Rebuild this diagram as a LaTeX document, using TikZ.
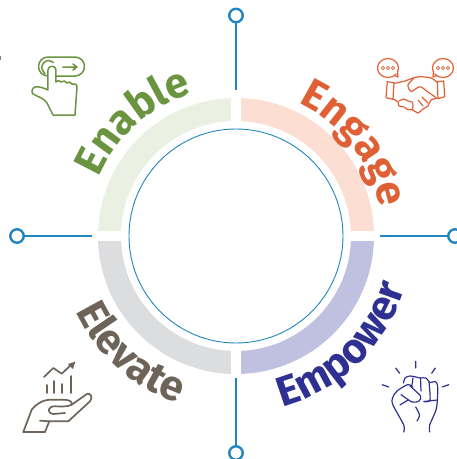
\documentclass[tikz,border=0pt]{standalone}
\usepackage{fontspec}
\setsansfont{Fira Sans}
\usetikzlibrary{decorations.text}

\definecolor{spokeblue}{HTML}{1F86C0}
\definecolor{enablegreen}{HTML}{6A9440}
\definecolor{enablering}{HTML}{EAF1E3}
\definecolor{engagered}{HTML}{DE6034}
\definecolor{engagering}{HTML}{FDDED3}
\definecolor{elevategray}{HTML}{6D6358}
\definecolor{elevatering}{HTML}{DCDDDE}
\definecolor{empowerblue}{HTML}{2E3192}
\definecolor{empowerring}{HTML}{C0C1E0}

\newcommand{\ringfont}{\sffamily\bfseries\fontsize{42}{42}\selectfont}

\tikzset{
  hub/.style={circle,draw=spokeblue,line width=2.4pt,fill=white,minimum size=13.5pt,inner sep=0pt},
  spoke/.style={draw=spokeblue,line width=1.8pt},
  ringlabel/.style n args={3}{decorate,decoration={text along path,text align={center},
    text={|\ringfont\addfontfeature{LetterSpace=#3}\color{#2}|#1}}},
  icon/.style={line width=#1,line cap=round,line join=round},
  icon/.default=1.5pt,
  pixels/.style={shift={(-236,236)},yscale=-1},
}

\begin{document}
\begin{tikzpicture}[x=1pt,y=1pt]
  \useasboundingbox (-236,-223) rectangle (221,236);

  % ring
  \foreach \from/\col in {90/enablering,0/engagering,180/elevatering,270/empowerring} {
    \fill[\col] (\from:138) arc (\from:\from+90:138) -- (\from+90:115) arc (\from+90:\from:115) -- cycle;
  }
  \draw[white,line width=10pt] (-140,0) -- (140,0);
  \draw[white,line width=10pt] (0,-140) -- (0,140);
  \draw[spokeblue,line width=0.9pt] (0,0) circle (107);

  % spokes
  \foreach \name/\ang/\hubr/\endr in {top/90/220.5/146,left/180/219/144,right/0/219/144,bottom/270/217/142} {
    \node[hub] (hub-\name) at (\ang:\hubr) {};
    \coordinate (end-\name) at (\ang:\endr);
    \draw[spoke] (hub-\name) -- (end-\name);
  }

  % labels
  \path[ringlabel={Enable}{enablegreen}{-3}] (192:149) arc (192:72:149);
  \path[ringlabel={Engage}{engagered}{0}] (98:147) arc (98:-22:147);
  \path[ringlabel={Elevate}{elevategray}{4}] (168:177) arc (168:288:177);
  \path[ringlabel={Empower}{empowerblue}{0}] (-106:177) arc (-106:14:177);

  \begin{scope}[pixels]
    % Enable icon
    \begin{scope}[draw=enablegreen,icon]
      \draw[rounded corners=9.5pt] (38.5,57) rectangle (84.5,76);
      \draw plot[smooth] coordinates {(53.5,62.5) (48,60.5) (43.5,63) (41.7,68) (45,74)};
      \draw (63,67) -- (77,67) (73,64) -- (77,67) -- (73,70);
      \fill[white] (48,70) rectangle (56,82);
      \draw (53,115) -- (75,115) -- (77,87) .. controls (77,84) and (74,83) .. (72,84)
        .. controls (71,82) and (68,81) .. (67,83) .. controls (66,81) and (63,80) .. (61,82)
        .. controls (60,80) and (57,80) .. (56,82) -- (56,70) .. controls (56,65) and (48,65) .. (48,70)
        -- (48,90) .. controls (44,88) and (38,86) .. (35,87) .. controls (32,88) and (31,92) .. (33,94)
        .. controls (38,97) and (44,98) .. (47,103) -- cycle;
    \end{scope}
    % Engage icon
    \begin{scope}[draw=engagered,icon=1.2pt]
      \foreach \cx/\tipx/\sgn in {388/398/1,443/433/-1} {
        \draw (\cx,68) ellipse (10.5 and 9.5);
        \fill[white] (\tipx-\sgn*2,72) circle (1.8);
        \draw (\tipx-\sgn*3.5,75.5) -- (\tipx,77) -- (\tipx-\sgn*0.5,71);
        \foreach \dx in {-5,0,5} { \draw[line width=0.8pt] (\cx+\dx,68) circle (1.6); }
      }
      \draw (387.3,81.7) -- (394,82.7) -- (393,99.3) -- (386,97.7) -- cycle;
      \draw (437.3,81.7) -- (443.7,81) -- (444.7,96.7) -- (438,98.7) -- cycle;
      \draw plot[smooth] coordinates {(394,83.5) (405,81) (413,78) (420,76.7) (431,78) (437.3,82.5)};
      \draw plot[smooth] coordinates {(414,78) (408,85) (411,91.5) (417,88) (421,87) (428,92) (436,97.5)};
      \draw plot[smooth] coordinates {(438,98) (431,100) (428,106) (423,109) (418,113) (413,110) (408,109.5)};
      \draw plot[smooth] coordinates {(393,99) (398,102) (399,106) (404,107) (408,110)};
      \draw plot[smooth] coordinates {(399,101) (404,99) (408,101) (412,102) (413,106) (412,110)};
      \draw (418,100) -- (423,106) (422,97) -- (428,103);
    \end{scope}
    % Elevate icon
    \begin{scope}[draw=elevategray,icon=1.7pt]
      \draw (44,377) -- (53.3,368) -- (61.7,373.7) -- (71,365);
      \fill[elevategray] (75.5,361.5) -- (73,369) -- (68,364) -- cycle;
      \draw (46.7,385) -- (46.7,393) (54.3,381) -- (54.3,393) (62.3,384) -- (62.3,393) (70.7,376) -- (70.7,393);
      \draw (23.3,432) -- (45,432) -- (49.3,421.3) -- (68.3,421.3) -- (90,401.3)
        .. controls (93,398) and (91,393) .. (87.3,393.7) -- (71.7,404.7)
        .. controls (68,407) and (60,406.5) .. (55,406.3)
        .. controls (48,406) and (46,413) .. (53.3,414) -- (65,413);
      \draw (71.7,404.7) .. controls (73,398) and (60,400) .. (50,399.7)
        .. controls (42,400) and (35,405) .. (31.7,409.7) -- (23.3,432);
      \draw (40,420.7) -- (49.3,421.3);
    \end{scope}
    % Empower icon
    \begin{scope}[draw=empowerblue,icon=1.2pt]
      \draw (415.7,361.3) -- (415.7,368) (395.7,368) -- (399.7,373.3) (435.3,368) -- (431.7,373.3)
        (382.3,384.7) -- (388.7,387) (448.7,384.7) -- (442.3,387);
      \draw plot[smooth] coordinates {(403.7,432) (403.7,425) (393,405) (392.5,398) (397,391) (408,384.5) (413,387)};
      \draw plot[smooth] coordinates {(429.7,432) (429.7,425) (436,410) (437.5,398) (437.5,385) (435,381.5) (430,382.5) (426,378) (420,378) (416,377) (410,376) (405,378) (403.5,383)};
      \draw plot[smooth] coordinates {(413,378) (412,385)};
      \draw plot[smooth] coordinates {(420.5,378) (421,391)};
      \draw plot[smooth] coordinates {(429,382) (430,400) (424,401.5)};
      \draw plot[smooth] coordinates {(401,394.5) (412,402) (419,401) (420.5,396) (410,386)};
      \draw (400,405) -- (408,400);
      \draw (424,401.5) -- (437.5,400);
      \draw plot[smooth] coordinates {(415.7,407) (419.5,415) (417,421)};
    \end{scope}
    % cut-off mark at the left edge
    \fill[gray] (0,55.5) rectangle (1.5,60);
  \end{scope}
\end{tikzpicture}
\end{document}
